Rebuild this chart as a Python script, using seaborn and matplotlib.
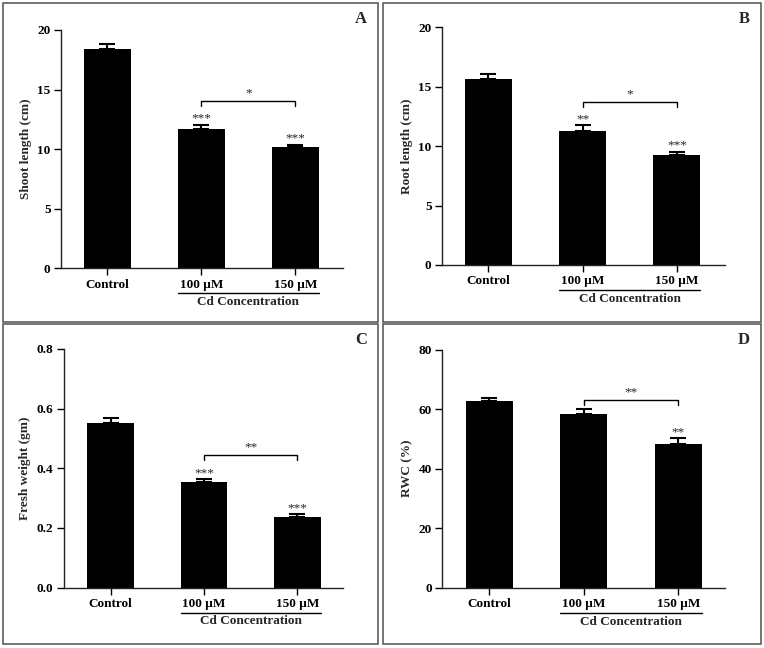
import numpy as np
import pandas as pd
import matplotlib
matplotlib.use("Agg")
import matplotlib.pyplot as plt
from matplotlib.patches import Rectangle
import seaborn as sns

# categories
groups = ["Control", "100 µM", "150 µM"]

# panel A - shoot length
shoot_mean = [18.4, 11.7, 10.2]
shoot_err = [0.4, 0.35, 0.17]
shoot_stars = ["", "***", "***"]

# panel B - root length
root_mean = [15.63, 11.28, 9.28]
root_err = [0.45, 0.5, 0.26]
root_stars = ["", "**", "***"]

# panel C - fresh weight
fresh_mean = [0.552, 0.354, 0.237]
fresh_err = [0.017, 0.01, 0.008]
fresh_stars = ["", "***", "***"]

# panel D - RWC
rwc_mean = [62.8, 58.3, 48.3]
rwc_err = [0.9, 1.8, 1.9]
rwc_stars = ["", "", "**"]

# bracket between 100 and 150 uM
bracket_level = [14.05, 13.7, 0.444, 63.1]
bracket_label = ["*", "*", "**", "**"]

ylabels = ["Shoot length (cm)", "Root length (cm)", "Fresh weight (gm)", "RWC (%)"]
ylims = [20, 20, 0.8, 80]
yticks = [[0, 5, 10, 15, 20], [0, 5, 10, 15, 20],
          [0.0, 0.2, 0.4, 0.6, 0.8], [0, 20, 40, 60, 80]]
letters = ["A", "B", "C", "D"]

sns.set_style("ticks")
plt.rcParams['font.family'] = ['Liberation Serif', 'DejaVu Serif']
plt.rcParams['font.weight'] = 'bold'

fig = plt.figure(figsize=(7.64, 6.48), dpi=100)
W, H = 764, 648

# panel frames (pixels)
frames = [(3, 3, 378, 322), (383, 3, 761, 322), (3, 324, 378, 644), (383, 324, 761, 644)]
# axes boxes (pixels): left, top, right, bottom
boxes = [(61, 30, 343, 268.3), (442, 27.3, 725, 265),
         (63.5, 349, 343, 587.5), (442.3, 349.7, 725, 587.7)]
xlims = [(-0.49, 2.505), (-0.493, 2.51), (-0.505, 2.49), (-0.5, 2.495)]

for x0, y0, x1, y1 in frames:
    fig.patches.append(Rectangle((x0 / W, 1 - y1 / H), (x1 - x0) / W, (y1 - y0) / H,
                                 transform=fig.transFigure, fill=False,
                                 edgecolor="#505050", linewidth=1.1))

means = [shoot_mean, root_mean, fresh_mean, rwc_mean]
errs = [shoot_err, root_err, fresh_err, rwc_err]
stars = [shoot_stars, root_stars, fresh_stars, rwc_stars]

for k in range(4):
    l, t, r, b = boxes[k]
    ax = fig.add_axes([l / W, 1 - b / H, (r - l) / W, (b - t) / H])
    df = pd.DataFrame({"group": groups, "value": means[k]})
    sns.barplot(data=df, x="group", y="value", color="black", width=0.5,
                edgecolor="black", linewidth=0, saturation=1, ax=ax)
    pos = np.arange(len(groups))
    ax.errorbar(pos, means[k], yerr=[np.zeros(len(groups)), errs[k]], fmt="none",
                ecolor="black", elinewidth=1.5, capsize=6, capthick=1.5)
    for i, s in enumerate(stars[k]):
        if s:
            ax.annotate(s, (pos[i], means[k][i] + errs[k][i]), xytext=(0, 0),
                        textcoords="offset points", ha="center", va="bottom",
                        fontsize=9.5, fontweight="normal")
    # bracket
    yb = bracket_level[k]
    drop = 0.021 * ylims[k]
    ax.plot([1, 1, 2, 2], [yb - drop, yb, yb, yb - drop], color="black", lw=1)
    ax.annotate(bracket_label[k], (1.5, yb), xytext=(0, 1), textcoords="offset points",
                ha="center", va="bottom", fontsize=9.5, fontweight="normal")

    ax.set_ylim(0, ylims[k])
    ax.set_xlim(*xlims[k])
    ax.set_yticks(yticks[k])
    if k == 2:
        ax.set_yticklabels(["%.1f" % v for v in yticks[k]])
    ax.set_ylabel(ylabels[k], fontsize=9.5, fontweight="bold", labelpad=3.5)
    ax.set_xlabel("")
    ax.tick_params(axis="both", labelsize=9.5, length=5, width=1, colors="black",
                   direction="out", pad=2.5)
    for lab in ax.get_xticklabels() + ax.get_yticklabels():
        lab.set_fontweight("bold")
    sns.despine(ax=ax)
    for sp in ["left", "bottom"]:
        ax.spines[sp].set_linewidth(1)
        ax.spines[sp].set_color("#222222")

    # group label under 100 / 150 uM
    trans = ax.get_xaxis_transform()
    ybar = -25 / (b - t)
    ax.plot([0.75, 2.25], [ybar, ybar], color="black", lw=1, transform=trans,
            clip_on=False)
    ax.text(1.5, ybar - 3 / (b - t), "Cd Concentration", transform=trans,
            ha="center", va="top", fontsize=9.5, fontweight="bold")

    # panel letter
    fx1, fy0 = frames[k][2], frames[k][1]
    fig.text((fx1 - 17) / W, 1 - (fy0 + 16) / H, letters[k], ha="center",
             va="center", fontsize=12, fontweight="bold")

fig.savefig("out.png", dpi=100)
